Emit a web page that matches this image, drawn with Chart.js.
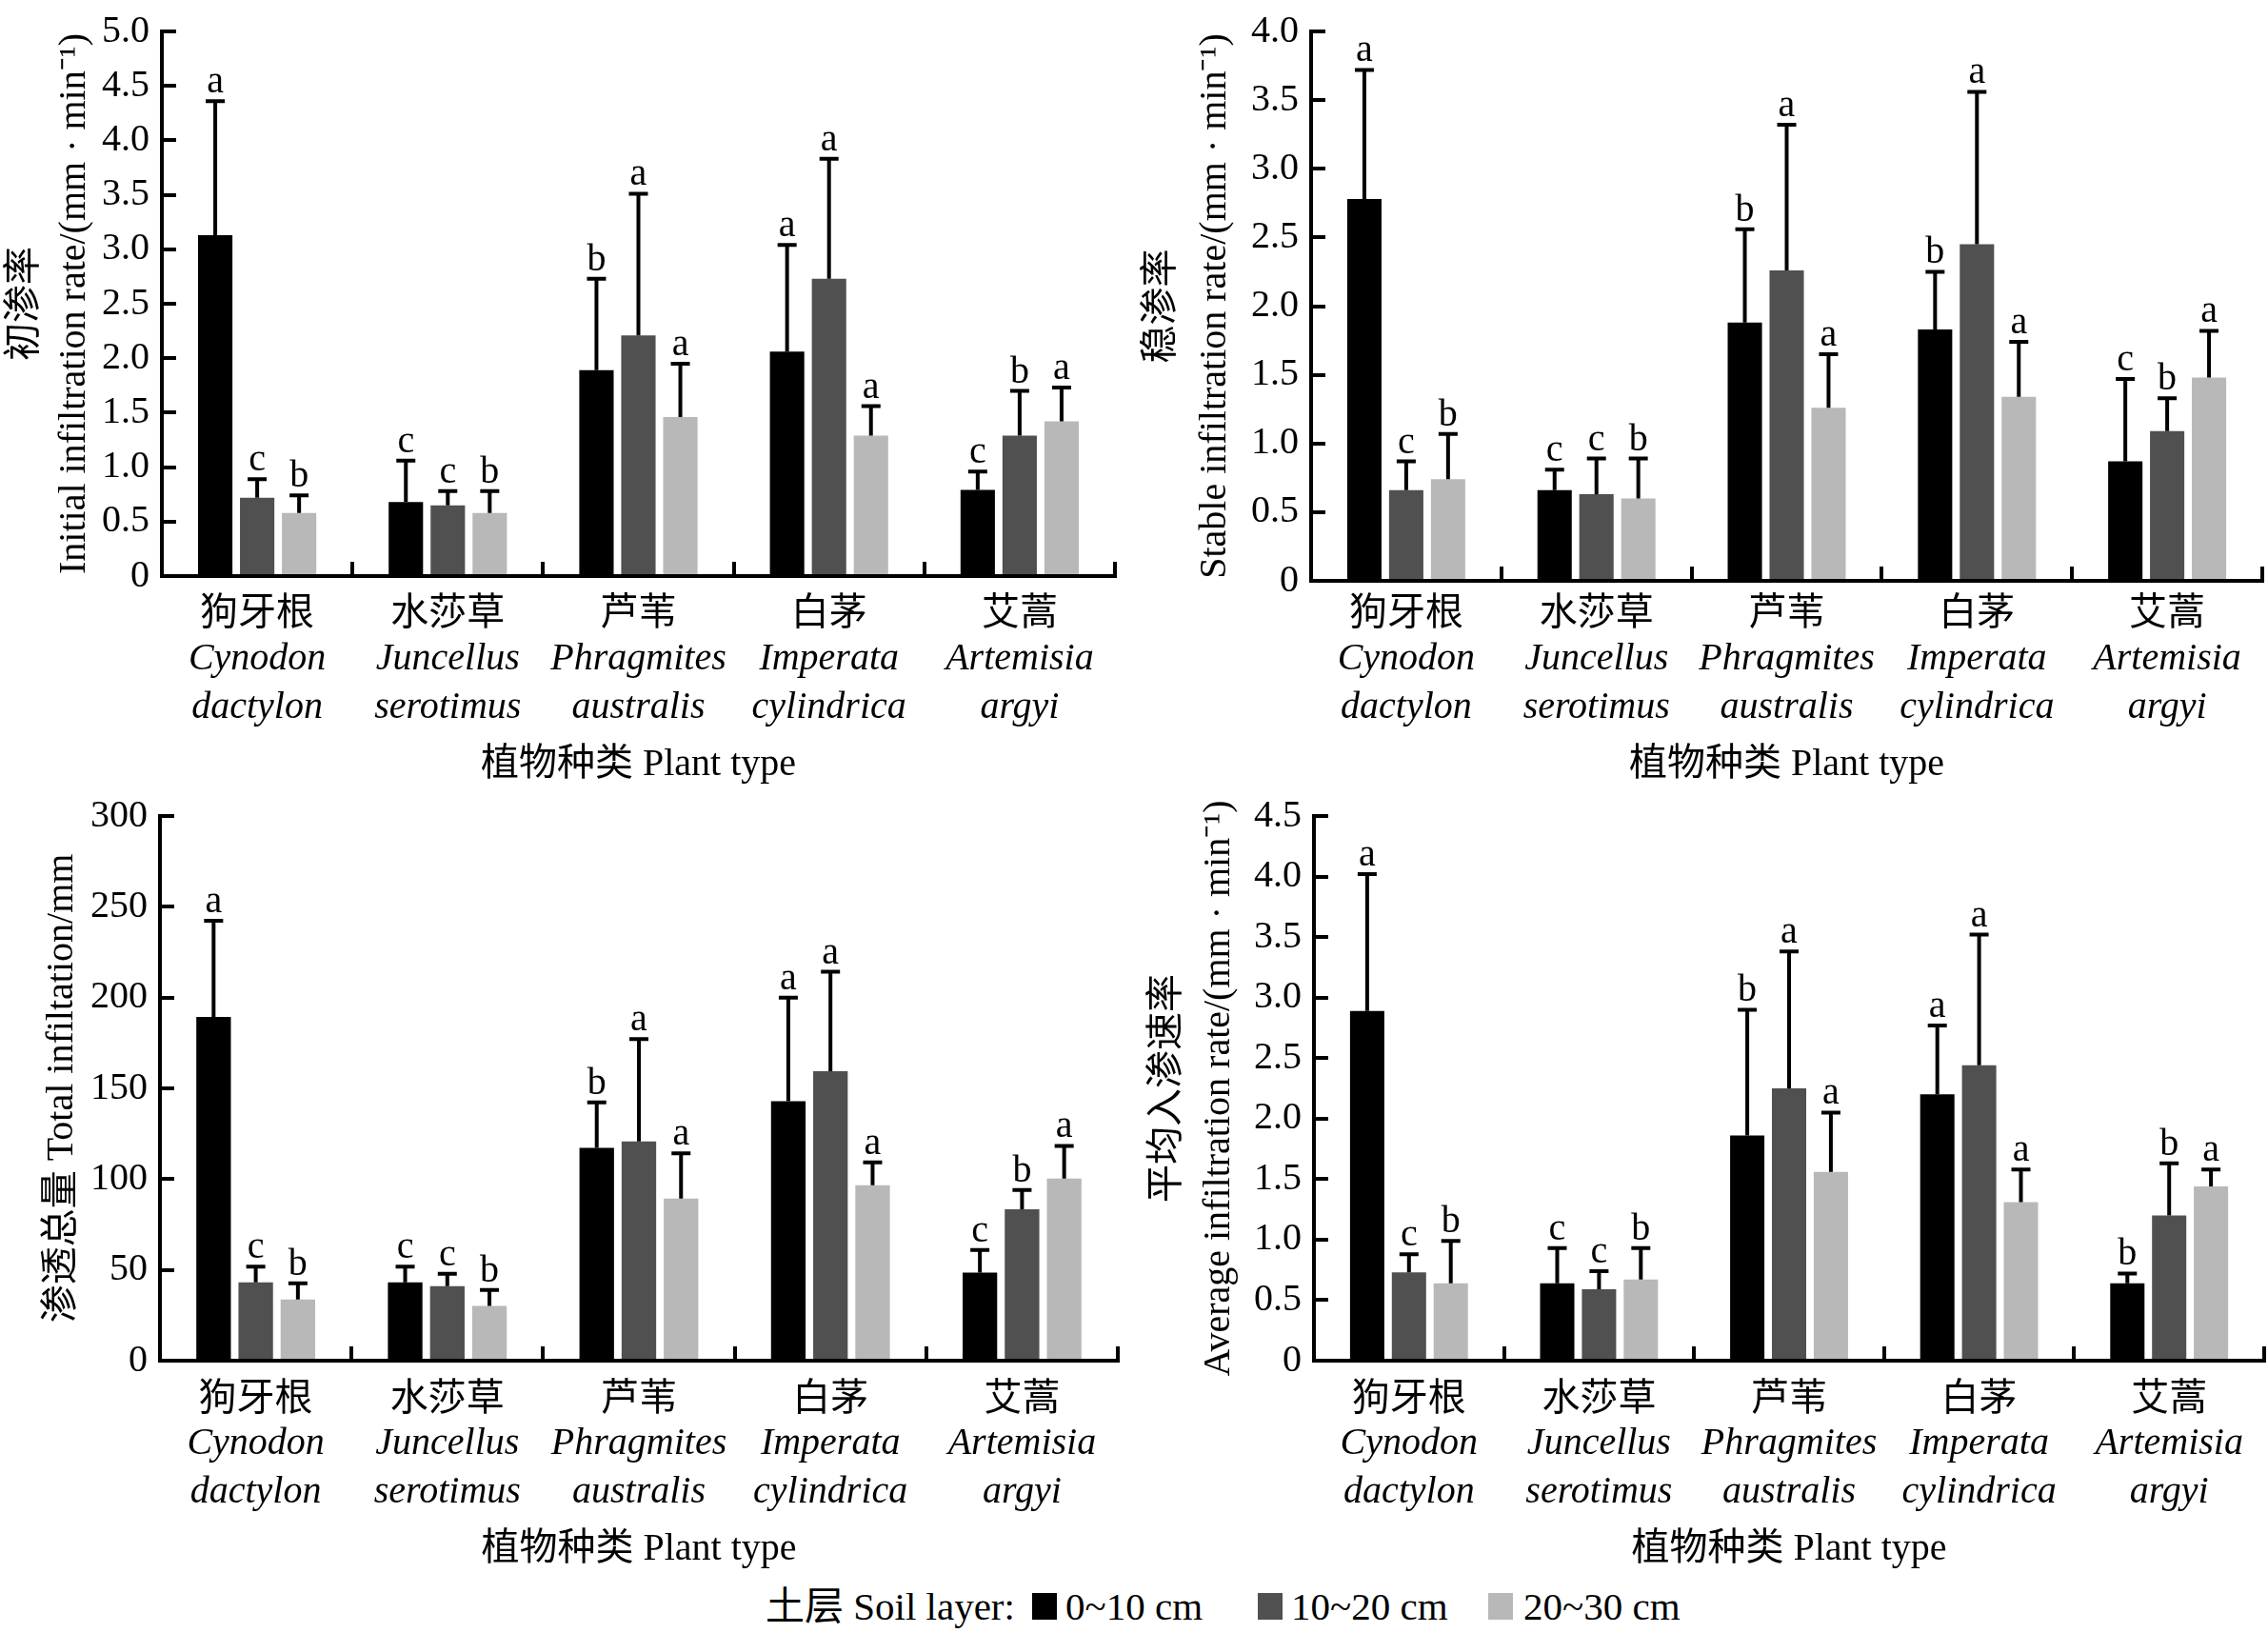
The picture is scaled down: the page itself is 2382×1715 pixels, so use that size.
<!DOCTYPE html>
<html>
<head>
<meta charset="utf-8">
<title>Infiltration by plant type and soil layer</title>
<script src="https://cdn.jsdelivr.net/npm/chart.js@4.4.1/dist/chart.umd.min.js"></script>
<style>
  body { margin: 0; background: #fff; overflow: hidden; }
  #page { position: relative; width: 2382px; height: 1715px; }
  canvas { position: absolute; }
  #legend { position: absolute; left: 0; top: 1662px; width: 2382px; height: 50px;
            font: 41px "Liberation Serif", "Noto Sans CJK SC", serif; color: #000; }
  #legend span { position: absolute; top: 0; line-height: 50px; white-space: nowrap; }
  #legend i { position: absolute; top: 11px; width: 26px; height: 28px; }
</style>
</head>
<body>
<div id="page">
  <canvas id="c1" width="1190" height="840" style="left:0;top:0"></canvas>
  <canvas id="c2" width="1192" height="840" style="left:1190px;top:0"></canvas>
  <canvas id="c3" width="1190" height="820" style="left:0;top:840px"></canvas>
  <canvas id="c4" width="1192" height="820" style="left:1190px;top:840px"></canvas>
  <div id="legend">
    <span style="left:804px">土层 Soil layer:</span>
    <i style="left:1084px;background:#000"></i><span style="left:1119px">0~10 cm</span>
    <i style="left:1321px;background:#505050"></i><span style="left:1356px">10~20 cm</span>
    <i style="left:1563px;background:#b8b8b8"></i><span style="left:1600px">20~30 cm</span>
  </div>
</div>
<script>
// plant types
const plantsCn = ["狗牙根", "水莎草", "芦苇", "白茅", "艾蒿"];
const plantsLatin = [
    ["Cynodon", "dactylon"],
    ["Juncellus", "serotimus"],
    ["Phragmites", "australis"],
    ["Imperata", "cylindrica"],
    ["Artemisia", "argyi"]
];
const layers = ["0~10 cm", "10~20 cm", "20~30 cm"];
const layerColors = ["#000000", "#505050", "#b8b8b8"];

// 初渗率 (mm/min): mean, sd, significance letters per layer
const initMean = [[3.13, 0.68, 1.89, 2.06, 0.79], [0.72, 0.65, 2.21, 2.73, 1.29], [0.58, 0.58, 1.46, 1.29, 1.42]];
const initSd   = [[1.23, 0.38, 0.84, 0.98, 0.17], [0.17, 0.13, 1.30, 1.10, 0.41], [0.16, 0.20, 0.49, 0.27, 0.31]];
const initSig  = [["a", "c", "b", "a", "c"], ["c", "c", "a", "a", "b"], ["b", "b", "a", "a", "a"]];

// 稳渗率 (mm/min)
const stableMean = [[2.78, 0.66, 1.88, 1.83, 0.87], [0.66, 0.63, 2.26, 2.45, 1.09], [0.74, 0.60, 1.26, 1.34, 1.48]];
const stableSd   = [[0.94, 0.15, 0.68, 0.42, 0.60], [0.21, 0.26, 1.06, 1.11, 0.24], [0.33, 0.29, 0.39, 0.40, 0.34]];
const stableSig  = [["a", "c", "b", "b", "c"], ["c", "c", "a", "a", "b"], ["b", "b", "a", "a", "a"]];

// 渗透总量 (mm)
const totalMean = [[189.3, 43.2, 117.2, 142.9, 48.5], [43.2, 41.1, 120.7, 159.5, 83.4], [33.7, 30.2, 89.3, 96.7, 100.3]];
const totalSd   = [[53.0, 8.6, 25.1, 57.1, 12.5], [8.6, 6.8, 56.5, 54.7, 10.6], [8.9, 8.8, 24.9, 12.5, 18.0]];
const totalSig  = [["a", "c", "b", "a", "c"], ["c", "c", "a", "a", "b"], ["b", "b", "a", "a", "a"]];

// 平均入渗速率 (mm/min)
const avgMean = [[2.89, 0.64, 1.86, 2.20, 0.64], [0.73, 0.59, 2.25, 2.44, 1.20], [0.64, 0.67, 1.56, 1.31, 1.44]];
const avgSd   = [[1.13, 0.29, 1.04, 0.57, 0.08], [0.15, 0.15, 1.13, 1.08, 0.43], [0.35, 0.26, 0.49, 0.27, 0.14]];
const avgSig  = [["a", "c", "b", "a", "b"], ["c", "c", "a", "a", "b"], ["b", "b", "a", "a", "a"]];

const FONT = "'Liberation Serif', 'Noto Sans CJK SC', serif";

// upper error bar with cap, plus letter above it
const errorBars = {
    id: "errorBars",
    afterDatasetsDraw(chart) {
        const ctx = chart.ctx;
        const y = chart.scales.y;
        chart.data.datasets.forEach((ds, i) => {
            const meta = chart.getDatasetMeta(i);
            meta.data.forEach((bar, j) => {
                const top = y.getPixelForValue(ds.data[j] + ds.sd[j]);
                ctx.save();
                ctx.strokeStyle = "#000";
                ctx.lineWidth = 4;
                ctx.beginPath();
                ctx.moveTo(bar.x, bar.y);
                ctx.lineTo(bar.x, top);
                ctx.moveTo(bar.x - 10, top);
                ctx.lineTo(bar.x + 10, top);
                ctx.stroke();
                ctx.fillStyle = "#000";
                ctx.font = "40px " + FONT;
                ctx.textAlign = "center";
                ctx.textBaseline = "alphabetic";
                ctx.fillText(ds.sig[j], bar.x, top - 9);
                ctx.restore();
            });
        });
    }
};

function makePanel(id, cfg) {
    const datasets = layers.map((name, i) => ({
        label: name,
        data: cfg.mean[i],
        sd: cfg.sd[i],
        sig: cfg.sig[i],
        backgroundColor: layerColors[i],
        borderWidth: 0,
        categoryPercentage: 0.66,
        barPercentage: 0.82
    }));
    new Chart(document.getElementById(id), {
        type: "bar",
        data: { labels: plantsCn, datasets: datasets },
        plugins: [errorBars],
        options: {
            responsive: false,
            animation: false,
            devicePixelRatio: 1,
            layout: { padding: cfg.padding },
            plugins: { legend: { display: false }, tooltip: { enabled: false } },
            scales: {
                x: {
                    offset: true,
                    ticks: { color: "#000", font: { family: FONT, size: 40, lineHeight: 1.2 }, padding: cfg.xPad, maxRotation: 0, autoSkip: false },
                    grid: { offset: true, drawOnChartArea: false, tickLength: -15, lineWidth: 4, color: "#000" },
                    border: { display: true, color: "#000", width: 4 },
                    afterFit: s => { s.height = cfg.xh; s.paddingLeft = 0; s.paddingRight = 0; }
                },
                x2: {
                    type: "category",
                    position: "bottom",
                    weight: 1,
                    offset: true,
                    labels: plantsLatin,
                    grid: { display: false, drawTicks: false },
                    border: { display: false },
                    ticks: { color: "#000", font: { family: FONT, size: 40, style: "italic", lineHeight: 1.275 }, padding: 2, maxRotation: 0, autoSkip: false },
                    title: { display: true, text: "植物种类 Plant type", color: "#000", font: { family: FONT, size: 40, lineHeight: 1.15 }, padding: { top: 0, bottom: 4 } },
                    afterFit: s => { s.height = 165; s.paddingLeft = 0; s.paddingRight = 0; }
                },
                y: {
                    min: 0,
                    max: cfg.max,
                    ticks: {
                        stepSize: cfg.step,
                        color: "#000",
                        font: { family: FONT, size: 40 },
                        padding: 28,
                        callback: v => v === 0 ? "0" : (cfg.step < 1 ? v.toFixed(1) : String(v))
                    },
                    grid: { drawOnChartArea: false, tickLength: -15, lineWidth: 4, color: "#000" },
                    border: { display: true, color: "#000", width: 4 },
                    title: { display: true, text: cfg.yTitle, color: "#000", font: { family: FONT, size: 40, lineHeight: cfg.yLh }, padding: { top: cfg.yTp, bottom: 0 } },
                    // inward ticks need a big label padding; keep it out of the layout
                    afterFit: s => { s.width = cfg.yw; s.paddingTop = 0; s.paddingBottom = 0; }
                }
            }
        }
    });
}

makePanel("c1", {
    mean: initMean, sd: initSd, sig: initSig, max: 5, step: 0.5,
    yTitle: ["初渗率", "Initial infiltration rate/(mm · min⁻¹)"], yLh: 52 / 40, yTp: 0, yw: 170,
    padding: { top: 33, right: 19, left: 0, bottom: 10 }, xh: 60, xPad: 31
});
makePanel("c2", {
    mean: stableMean, sd: stableSd, sig: stableSig, max: 4, step: 0.5,
    yTitle: ["稳渗率", "Stable infiltration rate/(mm · min⁻¹)"], yLh: 56 / 40, yTp: 2, yw: 187,
    padding: { top: 33, right: 6, left: 0, bottom: 10 }, xh: 55, xPad: 26
});
makePanel("c3", {
    mean: totalMean, sd: totalSd, sig: totalSig, max: 300, step: 50,
    yTitle: "渗透总量 Total infiltation/mm", yLh: 52 / 40, yTp: 39, yw: 168,
    padding: { top: 17, right: 16, left: 0, bottom: 6 }, xh: 60, xPad: 32
});
makePanel("c4", {
    mean: avgMean, sd: avgSd, sig: avgSig, max: 4.5, step: 0.5,
    yTitle: ["平均入渗速率", "Average infiltration rate/(mm · min⁻¹)"], yLh: 54 / 40, yTp: 9, yw: 190,
    padding: { top: 17, right: 4, left: 0, bottom: 6 }, xh: 60, xPad: 32
});
</script>
</body>
</html>
